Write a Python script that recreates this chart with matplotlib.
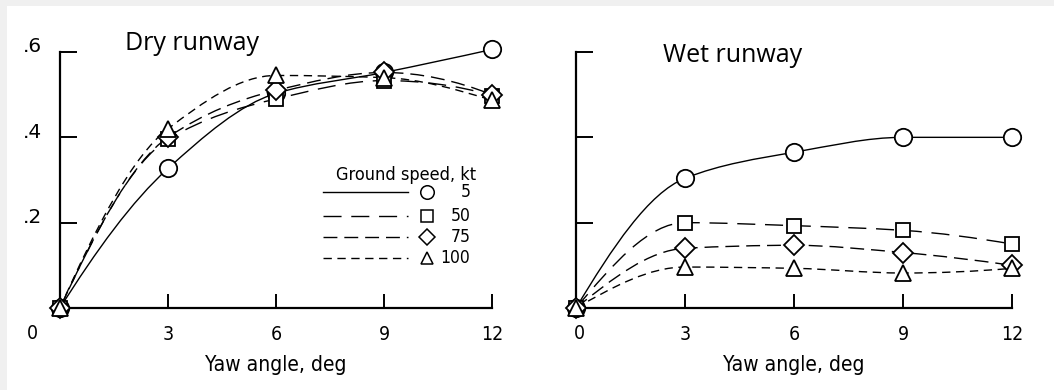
import matplotlib
matplotlib.use("Agg")
import matplotlib.pyplot as plt
from matplotlib.path import Path
from matplotlib.patches import PathPatch, Rectangle
from matplotlib import font_manager
import matplotlib.transforms as mtransforms
import numpy as np

# ---------------- data ----------------
yaw = [0, 3, 6, 9, 12]
speeds = ["5", "50", "75", "100"]

dry_5 = [0.0, 0.327, 0.503, 0.552, 0.606]
dry_50 = [0.0, 0.395, 0.490, 0.533, 0.498]
dry_75 = [0.0, 0.400, 0.510, 0.552, 0.500]
dry_100 = [0.0, 0.420, 0.545, 0.540, 0.487]

wet_5 = [0.0, 0.304, 0.365, 0.400, 0.400]
wet_50 = [0.0, 0.200, 0.193, 0.182, 0.150]
wet_75 = [0.0, 0.140, 0.147, 0.130, 0.100]
wet_100 = [0.0, 0.096, 0.093, 0.082, 0.093]

xticks = [3, 6, 9, 12]
xtick_labels = ["3", "6", "9", "12"]
yticks = [0.2, 0.4, 0.6]
ytick_labels = [".2", ".4", ".6"]

# ---------------- styles ----------------
names = [f.name for f in font_manager.fontManager.ttflist]
if "Liberation Sans Narrow" in names:
    cond_kw = dict(family="Liberation Sans Narrow")
else:
    cond_kw = dict(family="DejaVu Sans", stretch="condensed")

markers = ["o", "s", "D", "^"]
msizes = [12.5, 10.5, 10.5, 11.5]
dashes = ["-", (0, (13, 7)), (0, (10, 5)), (0, (6, 4))]


def pchip_slopes(x, y):
    x = np.asarray(x, float)
    y = np.asarray(y, float)
    h = np.diff(x)
    d = np.diff(y) / h
    n = len(x)
    m = np.zeros(n)
    for i in range(1, n - 1):
        if d[i - 1] * d[i] <= 0:
            m[i] = 0.0
        else:
            w1 = 2 * h[i] + h[i - 1]
            w2 = h[i] + 2 * h[i - 1]
            m[i] = (w1 + w2) / (w1 / d[i - 1] + w2 / d[i])

    def end(h0, h1, d0, d1):
        s = ((2 * h0 + h1) * d0 - h0 * d1) / (h0 + h1)
        if np.sign(s) != np.sign(d0):
            s = 0.0
        elif np.sign(d0) != np.sign(d1) and abs(s) > abs(3 * d0):
            s = 3 * d0
        return s

    m[0] = end(h[0], h[1], d[0], d[1])
    m[-1] = end(h[-1], h[-2], d[-1], d[-2])
    return x, y, h, m


def smooth_curve(ax, xs, ys, ls):
    x, y, h, m = pchip_slopes(xs, ys)
    verts = [(x[0], y[0])]
    codes = [Path.MOVETO]
    for i in range(len(x) - 1):
        verts += [(x[i] + h[i] / 3, y[i] + m[i] * h[i] / 3),
                  (x[i + 1] - h[i] / 3, y[i + 1] - m[i + 1] * h[i] / 3),
                  (x[i + 1], y[i + 1])]
        codes += [Path.CURVE4] * 3
    patch = PathPatch(Path(verts, codes), facecolor="none", edgecolor="black",
                      lw=1.0, linestyle=ls, clip_on=False, zorder=2)
    ax.add_patch(patch)


fig = plt.figure(figsize=(10.54, 3.9), dpi=100)
fig.patch.set_facecolor("#f0f0f0")
fig.patches.append(Rectangle((7 / 1054, 0), 1, 1 - 6 / 390, transform=fig.transFigure,
                             facecolor="white", edgecolor="none", zorder=-10))

W, H = 1054, 390
axL = fig.add_axes([60 / W, (H - 308) / H, 432 / W, 256 / H])
axR = fig.add_axes([576 / W, (H - 308) / H, 436 / W, 256 / H])

for ax in (axL, axR):
    ax.set_xlim(0, 12)
    ax.set_ylim(0, 0.6)
    ax.patch.set_alpha(0)
    for s in ("top", "right"):
        ax.spines[s].set_visible(False)
    for s in ("left", "bottom"):
        ax.spines[s].set_linewidth(1.6)
    ax.set_xticks(xticks)
    ax.set_xticklabels(xtick_labels, fontsize=14, **cond_kw)
    ax.set_yticks(yticks)
    ax.tick_params(axis="x", direction="in", length=10, width=1.4, pad=12)
    ax.tick_params(axis="y", direction="in", length=12, width=1.4, pad=13)
    ax.set_xlabel("Yaw angle, deg", fontsize=15, labelpad=8, **cond_kw)

axL.set_yticklabels(ytick_labels, fontsize=14.5, family="DejaVu Sans")
offset = mtransforms.ScaledTranslation(0, 5 / 100, fig.dpi_scale_trans)
for lab in axL.get_yticklabels():
    lab.set_va("center")
    lab.set_transform(lab.get_transform() + offset)
axR.set_yticklabels([])

axL.text(-0.063, -0.10, "0", transform=axL.transAxes, ha="center", va="center",
         fontsize=14, **cond_kw)
axR.text(0.007, -0.10, "0", transform=axR.transAxes, ha="center", va="center",
         fontsize=14, **cond_kw)

dry = [dry_5, dry_50, dry_75, dry_100]
wet = [wet_5, wet_50, wet_75, wet_100]
for ax, sets in ((axL, dry), (axR, wet)):
    for vals, mk, ms, ls in zip(sets, markers, msizes, dashes):
        smooth_curve(ax, yaw, vals, ls)
        ax.plot(yaw, vals, linestyle="none", marker=mk, markersize=ms,
                markerfacecolor="white", markeredgecolor="black", markeredgewidth=1.3,
                clip_on=False, zorder=3)

axL.text(0.150, 1.035, "Dry runway", transform=axL.transAxes, fontsize=18,
         family="Open Sans", ha="left", va="center")
axR.text(0.200, 0.985, "Wet runway", transform=axR.transAxes, fontsize=18,
         family="Open Sans", ha="left", va="center")

# legend drawn manually in axes coordinates
axL.text(0.80, 0.52, "Ground speed, kt", transform=axL.transAxes, ha="center",
         va="center", fontsize=13, **cond_kw)
rows = [0.453, 0.359, 0.277, 0.195]
for sp, mk, ms, ls, yr in zip(speeds, markers, msizes, dashes, rows):
    axL.plot([0.609, 0.806], [yr, yr], transform=axL.transAxes, color="black",
             lw=1.0, linestyle=ls, clip_on=False)
    axL.plot([0.850], [yr], transform=axL.transAxes, marker=mk, markersize=ms * 0.78,
             markerfacecolor="white", markeredgecolor="black", markeredgewidth=1.1,
             linestyle="none", clip_on=False)
    axL.text(0.950, yr, sp, transform=axL.transAxes, ha="right", va="center",
             fontsize=12.5, **cond_kw)

fig.savefig("out.png", dpi=100, facecolor=fig.get_facecolor())
